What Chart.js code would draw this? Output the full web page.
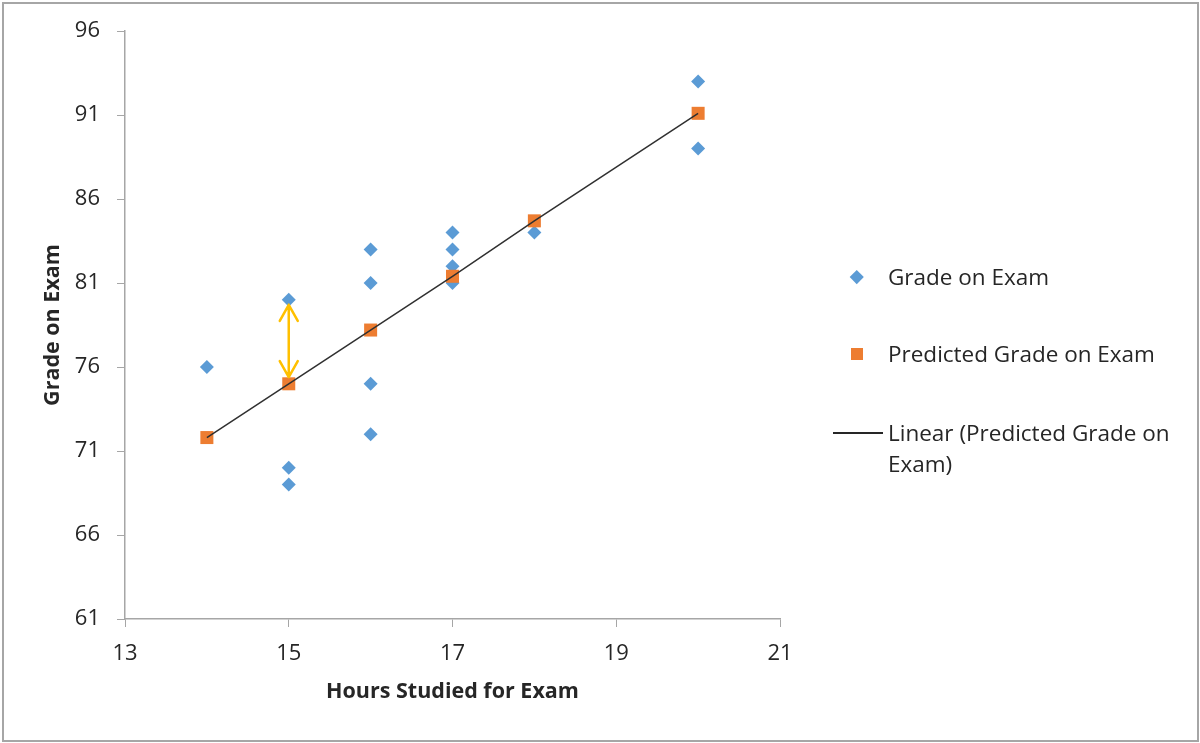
<!DOCTYPE html>
<html>
<head>
<meta charset="utf-8">
<script src="https://cdn.jsdelivr.net/npm/chart.js@4"></script>
<style>
  body { margin: 0; background: #fff; font-family: "Open Sans", sans-serif; }
  #wrap { position: relative; width: 1200px; height: 743px; }
  #frame { position: absolute; left: 2px; top: 2px; width: 1193px; height: 736px; border: 2px solid #a6a6a6; pointer-events: none; }
  #legend { position: absolute; left: 0; top: 0; color: #262626; font-size: 22.5px; }
  .item { position: absolute; left: 888px; line-height: 31px; white-space: nowrap; }
  .mark { position: absolute; }
</style>
</head>
<body>
<div id="wrap">
  <canvas id="myChart"></canvas>
  <div id="legend">
    <span class="mark" style="left:852px; top:272px; width:9.5px; height:9.5px; background:#5b9bd5; transform:rotate(45deg);"></span>
    <div class="item" style="top:261px;">Grade on Exam</div>
    <span class="mark" style="left:851px; top:348px; width:12px; height:12px; background:#ed7d31;"></span>
    <div class="item" style="top:338px;">Predicted Grade on Exam</div>
    <span class="mark" style="left:833px; top:432px; width:50px; height:1.5px; background:#262626;"></span>
    <div class="item" style="top:417px;">Linear (Predicted Grade on<br>Exam)</div>
  </div>
  <div id="frame"></div>
</div>
<script>
// data
const hours = [14, 15, 15, 15, 16, 16, 16, 16, 17, 17, 17, 17, 18, 20, 20];
const grades = [76, 80, 70, 69, 83, 81, 75, 72, 84, 83, 82, 81, 84, 93, 89];
const predHours = [14, 15, 16, 17, 18, 20];
const predGrades = [71.8, 75.0, 78.2, 81.4, 84.7, 91.1];
const xTicks = [13, 15, 17, 19, 21];
const yTicks = [61, 66, 71, 76, 81, 86, 91, 96];
// residual arrow at 15 hours (from actual grade down to predicted)
const arrowX = 15;
const arrowFromTo = [79.7, 75.4];

const toPoints = (xs, ys) => xs.map((x, i) => ({ x, y: ys[i] }));

const axisColor = '#a6a6a6';
const textColor = '#262626';
const tickFont = { family: 'Open Sans', size: 22 };
const titleFont = { family: 'Open Sans', size: 21.5, weight: 'bold' };

// yellow double arrow drawn in data units
const arrowPlugin = {
    id: 'residualArrow',
    afterDatasetsDraw(chart) {
        const { ctx, scales } = chart;
        const x = scales.x.getPixelForValue(arrowX);
        const y1 = scales.y.getPixelForValue(arrowFromTo[0]);
        const y2 = scales.y.getPixelForValue(arrowFromTo[1]);
        const headW = 9, headH = 16;
        ctx.save();
        ctx.strokeStyle = '#ffc000';
        ctx.lineWidth = 2.5;
        ctx.lineCap = 'round';
        ctx.lineJoin = 'round';
        ctx.beginPath();
        ctx.moveTo(x, y1);
        ctx.lineTo(x, y2);
        ctx.moveTo(x - headW, y1 + headH);
        ctx.lineTo(x, y1);
        ctx.lineTo(x + headW, y1 + headH);
        ctx.moveTo(x - headW, y2 - headH);
        ctx.lineTo(x, y2);
        ctx.lineTo(x + headW, y2 - headH);
        ctx.stroke();
        ctx.restore();
    }
};

const ctx = document.getElementById('myChart').getContext('2d');
const myChart = new Chart(ctx, {
    type: 'scatter',
    data: {
        datasets: [
            {
                label: 'Linear (Predicted Grade on Exam)',
                data: toPoints(predHours, predGrades),
                showLine: true,
                borderColor: '#303030',
                borderWidth: 1.5,
                pointRadius: 0,
                order: 0
            },
            {
                label: 'Predicted Grade on Exam',
                data: toPoints(predHours, predGrades),
                pointStyle: 'rect',
                pointRadius: 9.2,
                backgroundColor: '#ed7d31',
                borderColor: '#ed7d31',
                borderWidth: 0,
                order: 1
            },
            {
                label: 'Grade on Exam',
                data: toPoints(hours, grades),
                pointStyle: 'rectRot',
                pointRadius: 7,
                backgroundColor: '#5b9bd5',
                borderColor: '#5b9bd5',
                borderWidth: 0,
                order: 2
            }
        ]
    },
    options: {
        responsive: true,
        maintainAspectRatio: false,
        animation: false,
        layout: { padding: { top: 31, right: 420, left: 0, bottom: 0 } },
        plugins: {
            legend: { display: false },
            tooltip: { enabled: false }
        },
        scales: {
            x: {
                type: 'linear',
                min: 13,
                max: 21,
                afterBuildTicks: scale => { scale.ticks = xTicks.map(v => ({ value: v })); },
                afterFit: scale => { scale.height = 124; },
                ticks: { color: textColor, font: tickFont, padding: 14 },
                grid: { drawOnChartArea: false, tickLength: 8, color: axisColor },
                border: { color: axisColor, width: 1.5 },
                title: {
                    display: true,
                    text: 'Hours Studied for Exam',
                    color: textColor,
                    font: titleFont,
                    padding: { top: 0, bottom: 38 }
                }
            },
            y: {
                type: 'linear',
                min: 61,
                max: 96,
                afterBuildTicks: scale => { scale.ticks = yTicks.map(v => ({ value: v })); },
                afterFit: scale => { scale.width = 125; },
                ticks: { color: textColor, font: tickFont, padding: 17 },
                grid: { drawOnChartArea: false, tickLength: 8, color: axisColor },
                border: { color: axisColor, width: 1.5 },
                title: {
                    display: true,
                    text: 'Grade on Exam',
                    color: textColor,
                    font: titleFont,
                    padding: { top: 40, bottom: 0 }
                }
            }
        }
    },
    plugins: [arrowPlugin]
});
</script>
</body>
</html>
